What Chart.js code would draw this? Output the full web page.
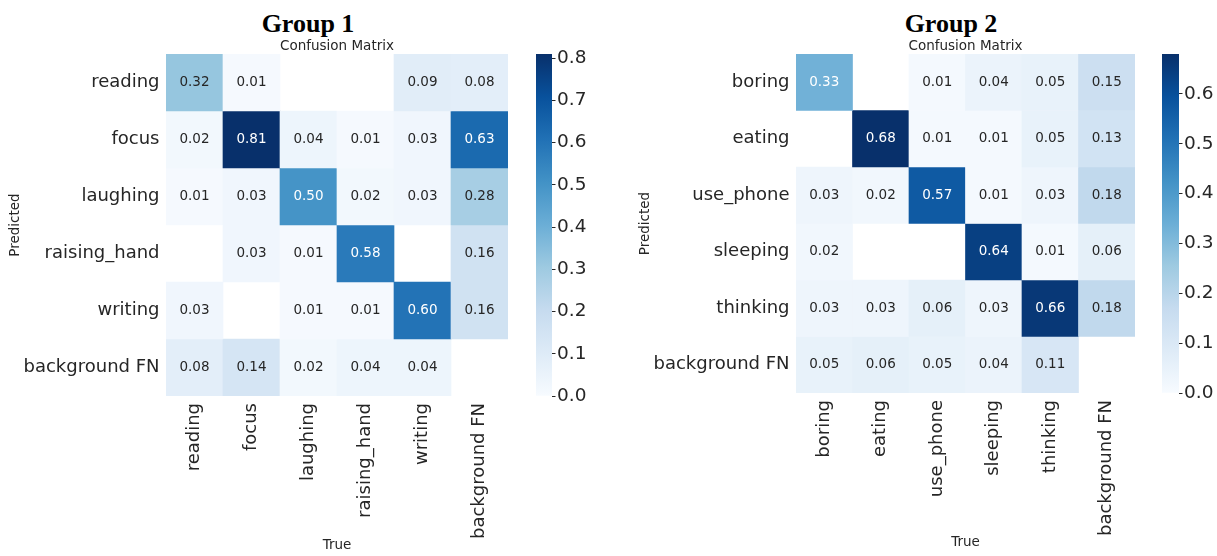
<!DOCTYPE html>
<html>
<head>
<meta charset="utf-8">
<script src="https://cdn.jsdelivr.net/npm/chart.js@4.4.1/dist/chart.umd.min.js"></script>
<style>
  html, body { margin: 0; padding: 0; background: #fff; }
  body { width: 1217px; height: 556px; position: relative; overflow: hidden; }
  .box { position: absolute; top: 0; height: 556px; }
  .group { position: absolute; top: 9px; line-height: 26px; font: bold 26px "Liberation Serif", serif; color: #000;
           transform: translateX(-50%); white-space: nowrap; }
</style>
</head>
<body>
<div class="group" style="left:308px">Group 1</div>
<div class="group" style="left:951px">Group 2</div>
<div class="box" style="left:0;width:520px"><canvas id="cm1" width="520" height="556"></canvas></div>
<div class="box" style="left:520px;width:95px"><canvas id="cb1" width="95" height="556"></canvas></div>
<div class="box" style="left:625px;width:520px"><canvas id="cm2" width="520" height="556"></canvas></div>
<div class="box" style="left:1146px;width:71px"><canvas id="cb2" width="71" height="556"></canvas></div>

<script>
// ---- data: rows = predicted class, columns = true class (null = empty cell) ----
const classes1 = ['reading', 'focus', 'laughing', 'raising_hand', 'writing', 'background FN'];
const matrix1 = [
  [0.32, 0.01, null, null, 0.09, 0.08],
  [0.02, 0.81, 0.04, 0.01, 0.03, 0.63],
  [0.01, 0.03, 0.50, 0.02, 0.03, 0.28],
  [null, 0.03, 0.01, 0.58, null, 0.16],
  [0.03, null, 0.01, 0.01, 0.60, 0.16],
  [0.08, 0.14, 0.02, 0.04, 0.04, null]
];
const vmax1 = 0.81;
const cbTicks1 = [0.0, 0.1, 0.2, 0.3, 0.4, 0.5, 0.6, 0.7, 0.8];

const classes2 = ['boring', 'eating', 'use_phone', 'sleeping', 'thinking', 'background FN'];
const matrix2 = [
  [0.33, null, 0.01, 0.04, 0.05, 0.15],
  [null, 0.68, 0.01, 0.01, 0.05, 0.13],
  [0.03, 0.02, 0.57, 0.01, 0.03, 0.18],
  [0.02, null, null, 0.64, 0.01, 0.06],
  [0.03, 0.03, 0.06, 0.03, 0.66, 0.18],
  [0.05, 0.06, 0.05, 0.04, 0.11, null]
];
const vmax2 = 0.68;
const cbTicks2 = [0.0, 0.1, 0.2, 0.3, 0.4, 0.5, 0.6];

// ---- styling ----
const INK = '#262626';
const FONT = '"DejaVu Sans", sans-serif';
const BLUES = ['#f7fbff', '#deebf7', '#c6dbef', '#9ecae1', '#6baed6', '#4292c6', '#2171b5', '#08519c', '#08306b'];

function hexRgb(h) {
  return [parseInt(h.slice(1, 3), 16), parseInt(h.slice(3, 5), 16), parseInt(h.slice(5, 7), 16)];
}
const BLUES_RGB = BLUES.map(hexRgb);

function bluesRgb(t) {
  t = Math.max(0, Math.min(1, t));
  const p = t * (BLUES_RGB.length - 1);
  const i = Math.min(Math.floor(p), BLUES_RGB.length - 2);
  const f = p - i;
  const a = BLUES_RGB[i], b = BLUES_RGB[i + 1];
  return a.map((v, k) => Math.round(v + (b[k] - v) * f));
}
const rgbStr = c => `rgb(${c[0]},${c[1]},${c[2]})`;

function luminance(c) {
  const lin = c.map(v => {
    v /= 255;
    return v <= 0.03928 ? v / 12.92 : Math.pow((v + 0.055) / 1.055, 2.4);
  });
  return 0.2126 * lin[0] + 0.7152 * lin[1] + 0.0722 * lin[2];
}

// writes each cell's value in its centre, dark or white depending on the fill
const cellText = {
  id: 'cellText',
  afterDatasetsDraw(chart) {
    const ctx = chart.ctx;
    ctx.save();
    ctx.font = `13.5px ${FONT}`;
    ctx.textAlign = 'center';
    ctx.textBaseline = 'middle';
    chart.data.datasets.forEach((ds, r) => {
      const meta = chart.getDatasetMeta(r);
      meta.data.forEach((bar, c) => {
        const v = ds.values[c];
        if (v == null) return;
        const p = bar.getProps(['x', 'y', 'base'], true);
        ctx.fillStyle = luminance(ds.cellRgb[c]) > 0.408 ? INK : '#ffffff';
        ctx.fillText(v.toFixed(2), p.x, (p.y + p.base) / 2);
      });
    });
    ctx.restore();
  }
};

function heatmap(id, classes, matrix, vmax, L) {
  const datasets = matrix.map((row, r) => {
    const cellRgb = row.map(v => (v == null ? null : bluesRgb(v / vmax)));
    return {
      label: classes[r],
      data: row.map(v => (v == null ? null : [r - 0.5, r + 0.5])),
      values: row,
      cellRgb: cellRgb,
      backgroundColor: cellRgb.map(c => (c ? rgbStr(c) : 'rgba(0,0,0,0)')),
      borderWidth: 0,
      grouped: false,
      barPercentage: 1,
      categoryPercentage: 1
    };
  });
  return new Chart(document.getElementById(id), {
    type: 'bar',
    data: { labels: classes, datasets },
    plugins: [cellText],
    options: {
      responsive: false,
      animation: false,
      events: [],
      layout: { padding: { left: 0, right: L.padRight, top: 0, bottom: 0 } },
      plugins: {
        legend: { display: false },
        tooltip: { enabled: false },
        title: {
          display: true, text: 'Confusion Matrix', fullSize: false, color: INK,
          font: { family: FONT, size: 13.5, weight: 'normal', lineHeight: 1 },
          padding: { top: L.titleTop, bottom: L.titleBottom }
        }
      },
      scales: {
        x: {
          type: 'category',
          offset: true,
          grid: { display: false, drawTicks: false },
          border: { display: false },
          ticks: {
            autoSkip: false, minRotation: 90, maxRotation: 90, color: INK,
            font: { family: FONT, size: 18 }, padding: 7
          },
          title: {
            display: true, text: 'True', color: INK,
            font: { family: FONT, size: 13.5 }, padding: { top: 0, bottom: L.truePad }
          },
          afterFit: s => { s.height = L.xh; }
        },
        y: {
          type: 'linear',
          reverse: true,
          min: -0.5,
          max: classes.length - 0.5,
          afterBuildTicks: s => { s.ticks = classes.map((_, i) => ({ value: i })); },
          grid: { display: false, drawTicks: false },
          border: { display: false },
          ticks: {
            color: INK, font: { family: FONT, size: 18 }, padding: 6.5,
            callback: v => classes[v]
          },
          title: {
            display: true, text: 'Predicted', color: INK,
            font: { family: FONT, size: 13.5 }, padding: { top: L.predPad, bottom: 0 }
          },
          afterFit: s => { s.width = L.yw; }
        }
      }
    }
  });
}

function colorbar(id, vmax, ticks, L) {
  return new Chart(document.getElementById(id), {
    type: 'bar',
    data: {
      labels: [''],
      datasets: [{
        data: [[0, vmax]],
        borderWidth: 0,
        barPercentage: 1,
        categoryPercentage: 1,
        backgroundColor: ctx => {
          const a = ctx.chart.chartArea;
          if (!a) return BLUES[0];
          const g = ctx.chart.ctx.createLinearGradient(0, a.bottom, 0, a.top);
          BLUES.forEach((c, i) => g.addColorStop(i / (BLUES.length - 1), c));
          return g;
        }
      }]
    },
    options: {
      responsive: false,
      animation: false,
      events: [],
      layout: { padding: { left: L.left, right: 0, top: L.top, bottom: L.bottom } },
      plugins: { legend: { display: false }, tooltip: { enabled: false } },
      scales: {
        x: { display: false },
        y: {
          position: 'right',
          min: 0,
          max: vmax,
          afterBuildTicks: s => { s.ticks = ticks.map(v => ({ value: v })); },
          grid: { drawOnChartArea: false, drawTicks: true, tickLength: 3.5, tickColor: INK, tickWidth: 1 },
          border: { display: false },
          ticks: { color: INK, font: { family: FONT, size: 18.5 }, padding: 1.5, callback: v => v.toFixed(1) },
          afterFit: s => { s.width = L.w; }
        }
      }
    }
  });
}

heatmap('cm1', classes1, matrix1, vmax1,
  { padRight: 12, xh: 160, yw: 166, predPad: 7, truePad: 2, titleTop: 39.5, titleBottom: 1 });
colorbar('cb1', vmax1, cbTicks1, { left: 16, top: 54, bottom: 160, w: 63 });

heatmap('cm2', classes2, matrix2, vmax2,
  { padRight: 10, xh: 163, yw: 171, predPad: 12, truePad: 5, titleTop: 39.5, titleBottom: 1 });
colorbar('cb2', vmax2, cbTicks2, { left: 16, top: 54, bottom: 163, w: 38 });
</script>
</body>
</html>
